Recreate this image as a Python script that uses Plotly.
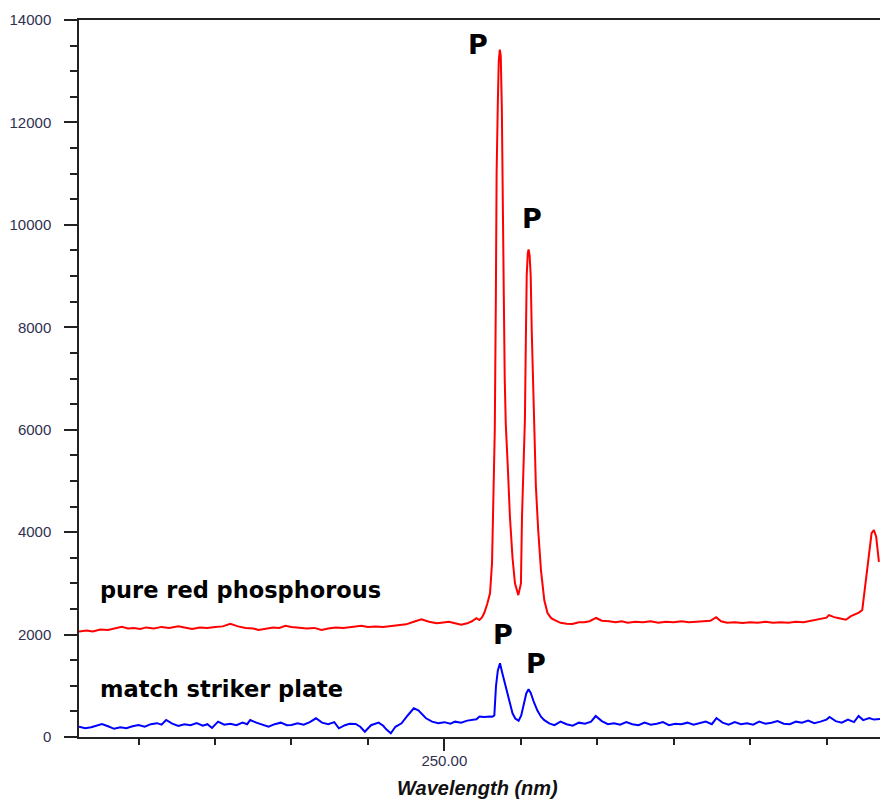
import plotly.graph_objects as go

# ---- data (wavelength in nm, intensity in counts) ----
red_nm = [226.1, 226.6, 227.0, 227.5, 228.0, 228.5, 228.9, 229.3, 229.7, 230.1,
          230.5, 231.0, 231.5, 232.0, 232.6, 233.0, 233.5, 234.0, 234.5, 235.0,
          235.5, 236.0, 236.5, 237.0, 237.5, 237.84, 238.3, 238.8, 239.2, 239.6,
          240.0, 240.5, 241.0, 241.5, 241.96, 242.4, 242.9, 243.4, 243.9, 244.58,
          245.0, 245.5, 246.0, 246.5, 247.0, 247.5, 248.0, 248.5, 249.0, 249.5,
          249.8, 250.3, 250.7, 251.1, 251.5, 251.8, 252.1, 252.29, 252.45, 252.61,
          252.81, 252.99, 253.12, 253.20, 253.30, 253.37, 253.42, 253.50, 253.56, 253.63,
          253.69, 253.76, 253.82, 253.89, 253.95, 254.02, 254.14, 254.29, 254.46, 254.62,
          254.84, 255.01, 255.08, 255.18, 255.27, 255.33, 255.39, 255.46, 255.51, 255.58,
          255.65, 255.72, 255.78, 255.84, 255.99, 256.14, 256.32, 256.54, 256.75, 256.99,
          257.19, 257.6, 258.0, 258.37, 258.8, 259.15, 259.5, 259.93, 260.3, 260.78,
          261.2, 261.6, 262.0, 262.5, 263.0, 263.5, 264.0, 264.5, 265.0, 265.5,
          266.0, 266.5, 267.0, 267.4, 267.78, 268.1, 268.5, 269.0, 269.5, 270.0,
          270.5, 271.0, 271.5, 272.0, 272.5, 273.0, 273.5, 274.0, 274.5, 275.0,
          275.16, 275.5, 275.82, 276.27, 276.6, 277.12, 277.34, 277.60, 277.78, 277.95,
          278.10, 278.25, 278.43]
red_counts = [2060, 2080, 2060, 2100, 2090, 2120, 2150, 2120, 2130, 2110,
              2140, 2120, 2150, 2130, 2160, 2140, 2110, 2140, 2130, 2150,
              2160, 2210, 2160, 2130, 2120, 2090, 2120, 2140, 2130, 2170,
              2150, 2140, 2120, 2130, 2090, 2120, 2140, 2130, 2150, 2170,
              2150, 2160, 2150, 2170, 2190, 2200, 2250, 2300, 2250, 2220,
              2230, 2250, 2220, 2190, 2220, 2260, 2320, 2285, 2330, 2420,
              2600, 2810, 3400, 4430, 6000, 8600, 11000, 12400, 13200, 13420,
              13300, 12300, 11000, 8600, 7000, 6100, 5350, 4300, 3500, 3000,
              2770, 3000, 4300, 5550, 6190, 7700, 9020, 9450, 9520, 9400,
              9000, 7900, 7200, 6300, 4880, 4040, 3260, 2670, 2420, 2320,
              2285, 2230, 2210, 2207, 2240, 2240, 2260, 2324, 2270, 2260,
              2240, 2260, 2230, 2250, 2240, 2260, 2230, 2250, 2240, 2260,
              2240, 2250, 2260, 2270, 2340, 2260, 2230, 2240, 2226, 2240,
              2230, 2250, 2230, 2240, 2230, 2250, 2240, 2270, 2300, 2330,
              2380, 2340, 2320, 2290, 2360, 2430, 2480, 3130, 3650, 3980,
              4040, 3910, 3420]

blue_nm = [226.1, 226.5, 226.9, 227.3, 227.6, 228.0, 228.4, 228.8, 229.2, 229.6,
           230.0, 230.4, 230.8, 231.2, 231.5, 231.8, 232.2, 232.6, 233.0, 233.4,
           233.8, 234.2, 234.5, 234.8, 235.2, 235.6, 236.0, 236.4, 236.8, 237.1,
           237.3, 237.7, 238.1, 238.5, 238.9, 239.3, 239.7, 240.0, 240.4, 240.8,
           241.2, 241.6, 242.0, 242.4, 242.8, 243.1, 243.5, 243.8, 244.2, 244.5,
           244.8, 245.2, 245.7, 246.0, 246.2, 246.5, 246.8, 247.2, 247.6, 248.0,
           248.3, 248.8, 249.2, 249.6, 250.0, 250.4, 250.7, 251.1, 251.5, 251.9,
           252.1, 252.3, 252.6, 253.0, 253.14, 253.27, 253.38, 253.50, 253.64, 253.79,
           254.03, 254.25, 254.46, 254.64, 254.86, 255.03, 255.23, 255.36, 255.51, 255.65,
           255.88, 256.08, 256.32, 256.54, 256.86, 257.2, 257.6, 258.0, 258.4, 258.8,
           259.2, 259.6, 259.9, 260.3, 260.7, 261.1, 261.5, 261.9, 262.3, 262.7,
           263.1, 263.5, 263.9, 264.3, 264.7, 265.1, 265.5, 265.9, 266.3, 266.7,
           267.1, 267.5, 267.8, 268.2, 268.6, 269.0, 269.4, 269.8, 270.2, 270.6,
           271.0, 271.4, 271.8, 272.2, 272.6, 273.0, 273.4, 273.8, 274.2, 274.6,
           275.0, 275.2, 275.6, 276.0, 276.4, 276.8, 277.1, 277.4, 277.8, 278.1,
           278.5]
blue_counts = [200, 170, 190, 230, 254, 210, 160, 190, 170, 210,
               234, 200, 250, 270, 240, 332, 260, 215, 250, 230,
               270, 220, 250, 176, 300, 240, 260, 230, 280, 250,
               332, 280, 240, 200, 250, 280, 230, 234, 270, 240,
               290, 365, 280, 250, 290, 170, 230, 260, 254, 200,
               104, 230, 280, 220, 150, 72, 200, 267, 420, 560,
               520, 365, 300, 267, 290, 260, 300, 280, 320, 340,
               346, 400, 390, 400, 397, 420, 1000, 1300, 1440, 1250,
               983, 700, 463, 360, 318, 420, 664, 850, 932, 860,
               664, 520, 397, 330, 267, 230, 300, 250, 220, 280,
               260, 300, 410, 310, 250, 270, 240, 290, 250, 230,
               280, 240, 260, 290, 230, 260, 250, 280, 240, 270,
               300, 250, 370, 280, 240, 290, 250, 270, 240, 300,
               260, 280, 310, 260, 250, 300, 280, 320, 270, 300,
               340, 390, 310, 280, 340, 290, 410, 330, 370, 340,
               350]

x_tick_vals = [250]
x_tick_text = ["250.00"]
y_tick_vals = [0, 2000, 4000, 6000, 8000, 10000, 12000, 14000]
y_tick_text = ["0", "2000", "4000", "6000", "8000", "10000", "12000", "14000"]

labels = [
    ("pure red phosphorous", 227.35, 2870),
    ("match striker plate", 227.35, 937),
]
peak_marks = [
    ("P", 252.22, 13531),
    ("P", 255.72, 10124),
    ("P", 253.84, 1992),
    ("P", 255.99, 1431),
]

fig = go.Figure()
fig.add_trace(go.Scatter(x=red_nm, y=red_counts, mode="lines",
                         line=dict(color="#ff0000", width=2), showlegend=False))
fig.add_trace(go.Scatter(x=blue_nm, y=blue_counts, mode="lines",
                         line=dict(color="#0000ff", width=2), showlegend=False))

for text, x, y in labels:
    fig.add_annotation(x=x, y=y, text=text, showarrow=False, xanchor="left", yanchor="middle",
                       font=dict(family="DejaVu Sans", size=22.5, color="#000000", weight="bold"))
for text, x, y in peak_marks:
    fig.add_annotation(x=x, y=y, text=text, showarrow=False, xanchor="center", yanchor="middle",
                       font=dict(family="DejaVu Sans", size=27, color="#000000", weight="bold"))

# axis title as an annotation below the plot area
fig.add_annotation(x=0.497, y=-0.0711, xref="paper", yref="paper", text="Wavelength (nm)",
                   showarrow=False, xanchor="center", yanchor="middle",
                   font=dict(family="Liberation Sans", size=20, color="#111",
                             weight="bold", style="italic"))

tick_font = dict(family="Liberation Sans", size=15, color="#303050")

fig.update_layout(
    width=880, height=800,
    margin=dict(l=79, r=0, t=20, b=63),
    plot_bgcolor="white", paper_bgcolor="white",
    showlegend=False,
    xaxis=dict(
        range=[226.1, 278.5],
        tickmode="array", tickvals=x_tick_vals, ticktext=x_tick_text,
        ticks="outside", ticklen=12, tickwidth=1.5, tickcolor="#222",
        showline=True, linecolor="#222", linewidth=1.5, mirror=True,
        showgrid=False, zeroline=False,
        tickfont=tick_font, ticklabelstandoff=-3,
        minor=dict(tickmode="linear", tick0=250, dtick=5, ticks="outside",
                   ticklen=6, tickwidth=1.5, tickcolor="#222", showgrid=False),
    ),
    yaxis=dict(
        range=[0, 14000],
        tickmode="array", tickvals=y_tick_vals, ticktext=y_tick_text,
        ticks="outside", ticklen=13, tickwidth=1.5, tickcolor="#222",
        showline=True, linecolor="#222", linewidth=1.5,
        showgrid=False, zeroline=False,
        tickfont=tick_font, ticklabelstandoff=10,
        minor=dict(tickmode="linear", tick0=0, dtick=500, ticks="outside",
                   ticklen=7, tickwidth=1.5, tickcolor="#222", showgrid=False),
    ),
)

# remove the default page margin so the 880x800 figure fills the window exactly
fig.write_html("out.html",
               config={"displayModeBar": False},
               post_script="document.body.style.margin='0';document.body.style.overflow='hidden';")
